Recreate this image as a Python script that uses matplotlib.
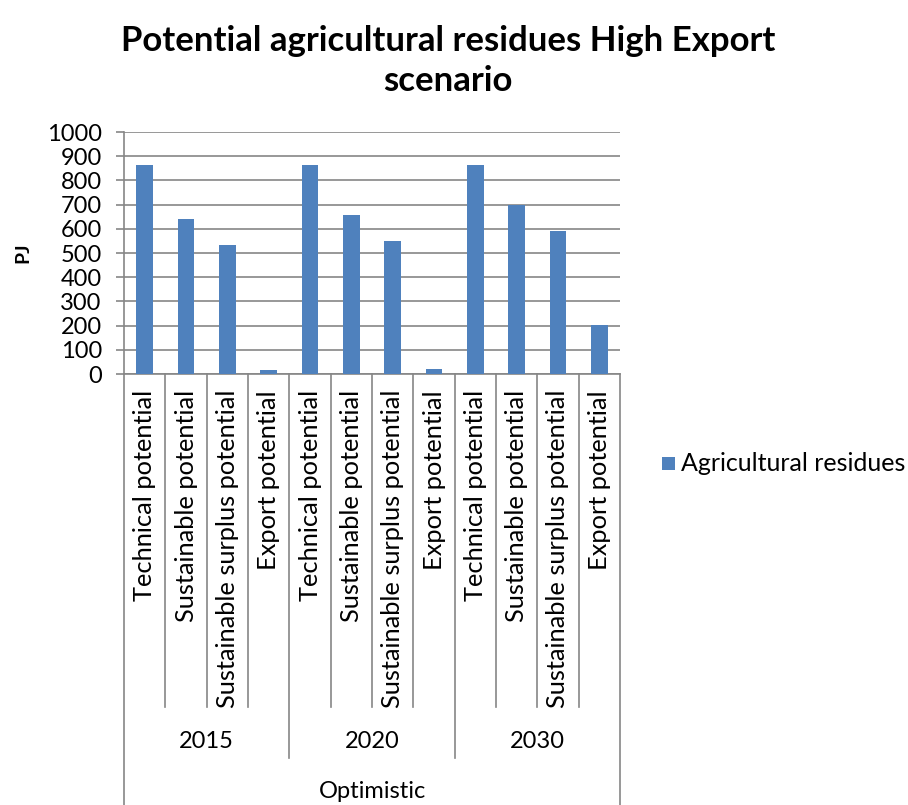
import matplotlib
matplotlib.use("Agg")
import matplotlib.pyplot as plt
from matplotlib.patches import Rectangle
from matplotlib.lines import Line2D

plt.rcParams['font.family'] = ['Lato', 'DejaVu Sans']

categories = ["Technical potential", "Sustainable potential",
              "Sustainable surplus potential", "Export potential"]
years = ["2015", "2020", "2030"]
scenario = "Optimistic"
values = [862, 640, 531, 16,
          862, 658, 549, 22,
          862, 698, 589, 201]
series_name = "Agricultural residues"
yticks = list(range(0, 1001, 100))

W, H = 908, 805
fig = plt.figure(figsize=(W / 100, H / 100), dpi=100)

left, right, top, bottom = 124, 620, 132, 374
ax = fig.add_axes([left / W, 1 - bottom / H, (right - left) / W, (bottom - top) / H])

n = len(values)
x = list(range(n))
bar_color = "#4F81BD"
ax.bar(x, values, width=0.4, color=bar_color, zorder=3)

ax.set_xlim(-0.5, n - 0.5)
ax.set_ylim(0, 1000)
ax.set_yticks(yticks)
ax.set_yticklabels([str(v) for v in yticks], fontsize=17)
ax.yaxis.grid(True, color="#868686", linewidth=1.2, zorder=0)
ax.set_xticks([])
for s in ["top", "right"]:
    ax.spines[s].set_visible(False)
for s in ["left", "bottom"]:
    ax.spines[s].set_color("#868686")
    ax.spines[s].set_linewidth(1.2)
ax.tick_params(axis="y", length=6, width=1.2, color="#868686", pad=10)

ax.set_ylabel("PJ", fontsize=14, fontweight="bold")
ax.yaxis.set_label_coords((31 - left) / (right - left), 0.5)

# Multi-level category axis drawn below the plot area
def fig_y(py):
    return 1 - py / H

trans = matplotlib.transforms.blended_transform_factory(ax.transData, fig.transFigure)
line_kw = dict(color="#868686", linewidth=1.2, clip_on=False, transform=trans)

y_axis = fig_y(bottom)
y_cat = fig_y(707)
y_year = fig_y(758)
y_outer = fig_y(805)

ngroup = len(categories)
for i in range(n + 1):
    xb = i - 0.5
    if i == 0 or i == n:
        y_end = y_outer
    elif i % ngroup == 0:
        y_end = y_year
    else:
        y_end = y_cat
    fig.add_artist(Line2D([xb, xb], [y_axis, y_end], **line_kw))

for i, v in enumerate(values):
    fig.text(0, 0, categories[i % ngroup], rotation=90, ha="center", va="top",
             fontsize=18.3, transform=trans).set_position((i, fig_y(390)))

for g, yr in enumerate(years):
    xc = g * ngroup + (ngroup - 1) / 2
    fig.text(0, 0, yr, ha="center", va="center", fontsize=17,
             transform=trans).set_position((xc, fig_y(741)))

fig.text(0, 0, scenario, ha="center", va="center", fontsize=17,
         transform=trans).set_position(((n - 1) / 2, fig_y(791)))

# Title
fig.text(448 / W, fig_y(41), "Potential agricultural residues High Export",
         ha="center", va="center", fontsize=25, fontweight="bold")
fig.text(448 / W, fig_y(81), "scenario",
         ha="center", va="center", fontsize=25, fontweight="bold")

# Legend
fig.add_artist(Rectangle((662 / W, fig_y(470)), 13 / W, 13 / H,
                         facecolor=bar_color, edgecolor="none",
                         transform=fig.transFigure))
fig.text(681 / W, fig_y(463), series_name, ha="left", va="center", fontsize=18)

fig.savefig("out.png", dpi=100)
